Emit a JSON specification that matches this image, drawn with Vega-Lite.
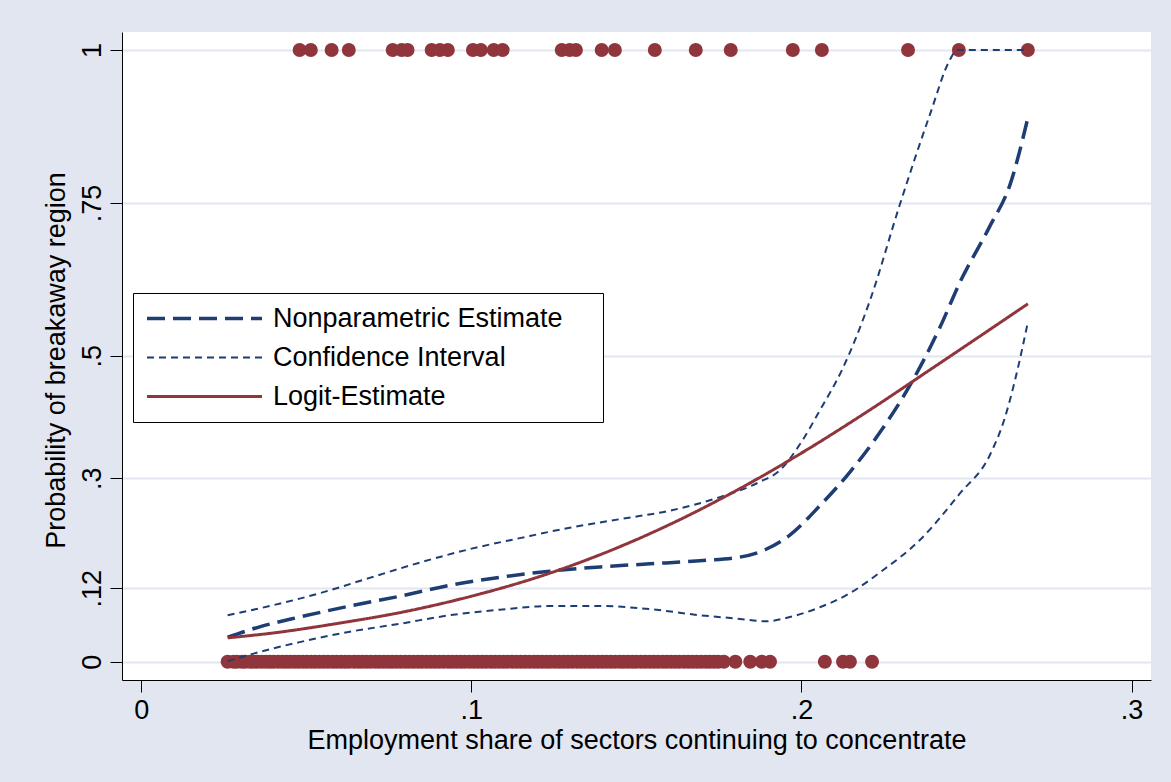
{
  "$schema": "https://vega.github.io/schema/vega-lite/v6.json",
  "width": 1029,
  "height": 648,
  "autosize": {"type": "none"},
  "padding": {"left": 122, "top": 32, "right": 20, "bottom": 102},
  "background": "#E2E6F0",
  "config": {"view": {"stroke": null, "fill": "white"}, "font": "Liberation Sans"},
  "datasets": {
    "pts": [
      {"x":0.0480,"y":1},{"x":0.0514,"y":1},{"x":0.0577,"y":1},{"x":0.0629,"y":1},{"x":0.0762,"y":1},{"x":0.0789,"y":1},{"x":0.0807,"y":1},{"x":0.0880,"y":1},{"x":0.0905,"y":1},{"x":0.0929,"y":1},{"x":0.1005,"y":1},{"x":0.1029,"y":1},{"x":0.1068,"y":1},{"x":0.1095,"y":1},{"x":0.1274,"y":1},{"x":0.1298,"y":1},{"x":0.1317,"y":1},{"x":0.1395,"y":1},{"x":0.1435,"y":1},{"x":0.1556,"y":1},{"x":0.1680,"y":1},{"x":0.1786,"y":1},{"x":0.1974,"y":1},{"x":0.2062,"y":1},{"x":0.2323,"y":1},{"x":0.2477,"y":1},{"x":0.2686,"y":1},
      {"x":0.0262,"y":0},{"x":0.0280,"y":0},{"x":0.0290,"y":0},{"x":0.0305,"y":0},{"x":0.0315,"y":0},{"x":0.0330,"y":0},{"x":0.0340,"y":0},{"x":0.0352,"y":0},{"x":0.0365,"y":0},{"x":0.0378,"y":0},{"x":0.0390,"y":0},{"x":0.0401,"y":0},{"x":0.0415,"y":0},{"x":0.0428,"y":0},{"x":0.0440,"y":0},{"x":0.0452,"y":0},{"x":0.0465,"y":0},{"x":0.0477,"y":0},{"x":0.0490,"y":0},{"x":0.0502,"y":0},{"x":0.0515,"y":0},{"x":0.0527,"y":0},{"x":0.0540,"y":0},{"x":0.0553,"y":0},{"x":0.0566,"y":0},{"x":0.0580,"y":0},{"x":0.0592,"y":0},{"x":0.0605,"y":0},{"x":0.0618,"y":0},{"x":0.0630,"y":0},{"x":0.0645,"y":0},{"x":0.0658,"y":0},{"x":0.0670,"y":0},{"x":0.0683,"y":0},{"x":0.0696,"y":0},{"x":0.0710,"y":0},{"x":0.0722,"y":0},{"x":0.0735,"y":0},{"x":0.0748,"y":0},{"x":0.0760,"y":0},{"x":0.0773,"y":0},{"x":0.0786,"y":0},{"x":0.0800,"y":0},{"x":0.0812,"y":0},{"x":0.0825,"y":0},{"x":0.0838,"y":0},{"x":0.0850,"y":0},{"x":0.0864,"y":0},{"x":0.0877,"y":0},{"x":0.0890,"y":0},{"x":0.0903,"y":0},{"x":0.0916,"y":0},{"x":0.0930,"y":0},{"x":0.0942,"y":0},{"x":0.0955,"y":0},{"x":0.0968,"y":0},{"x":0.0980,"y":0},{"x":0.0994,"y":0},{"x":0.1007,"y":0},{"x":0.1020,"y":0},{"x":0.1033,"y":0},{"x":0.1046,"y":0},{"x":0.1060,"y":0},{"x":0.1072,"y":0},{"x":0.1085,"y":0},{"x":0.1098,"y":0},{"x":0.1110,"y":0},{"x":0.1124,"y":0},{"x":0.1137,"y":0},{"x":0.1150,"y":0},{"x":0.1163,"y":0},{"x":0.1176,"y":0},{"x":0.1190,"y":0},{"x":0.1202,"y":0},{"x":0.1215,"y":0},{"x":0.1228,"y":0},{"x":0.1240,"y":0},{"x":0.1254,"y":0},{"x":0.1267,"y":0},{"x":0.1280,"y":0},{"x":0.1293,"y":0},{"x":0.1306,"y":0},{"x":0.1320,"y":0},{"x":0.1332,"y":0},{"x":0.1345,"y":0},{"x":0.1358,"y":0},{"x":0.1370,"y":0},{"x":0.1384,"y":0},{"x":0.1397,"y":0},{"x":0.1410,"y":0},{"x":0.1423,"y":0},{"x":0.1436,"y":0},{"x":0.1450,"y":0},{"x":0.1462,"y":0},{"x":0.1475,"y":0},{"x":0.1488,"y":0},{"x":0.1500,"y":0},{"x":0.1514,"y":0},{"x":0.1527,"y":0},{"x":0.1540,"y":0},{"x":0.1553,"y":0},{"x":0.1566,"y":0},{"x":0.1580,"y":0},{"x":0.1592,"y":0},{"x":0.1605,"y":0},{"x":0.1618,"y":0},{"x":0.1630,"y":0},{"x":0.1644,"y":0},{"x":0.1657,"y":0},{"x":0.1670,"y":0},{"x":0.1683,"y":0},{"x":0.1696,"y":0},{"x":0.1710,"y":0},{"x":0.1722,"y":0},{"x":0.1735,"y":0},{"x":0.1748,"y":0},{"x":0.1765,"y":0},{"x":0.1800,"y":0},{"x":0.1845,"y":0},{"x":0.1880,"y":0},{"x":0.1905,"y":0},{"x":0.2071,"y":0},{"x":0.2126,"y":0},{"x":0.2147,"y":0},{"x":0.2214,"y":0}
    ],
    "lines": [
      {"series":"Nonparametric Estimate","part":"np","x":0.0262,"y":0.040},
      {"series":"Nonparametric Estimate","part":"np","x":0.0359,"y":0.057},
      {"series":"Nonparametric Estimate","part":"np","x":0.0480,"y":0.073},
      {"series":"Nonparametric Estimate","part":"np","x":0.0632,"y":0.091},
      {"series":"Nonparametric Estimate","part":"np","x":0.0783,"y":0.107},
      {"series":"Nonparametric Estimate","part":"np","x":0.0935,"y":0.125},
      {"series":"Nonparametric Estimate","part":"np","x":0.1086,"y":0.138},
      {"series":"Nonparametric Estimate","part":"np","x":0.1238,"y":0.148},
      {"series":"Nonparametric Estimate","part":"np","x":0.1390,"y":0.155},
      {"series":"Nonparametric Estimate","part":"np","x":0.1541,"y":0.160},
      {"series":"Nonparametric Estimate","part":"np","x":0.1692,"y":0.165},
      {"series":"Nonparametric Estimate","part":"np","x":0.1814,"y":0.171},
      {"series":"Nonparametric Estimate","part":"np","x":0.1890,"y":0.183},
      {"series":"Nonparametric Estimate","part":"np","x":0.1965,"y":0.207},
      {"series":"Nonparametric Estimate","part":"np","x":0.2056,"y":0.255},
      {"series":"Nonparametric Estimate","part":"np","x":0.2147,"y":0.310},
      {"series":"Nonparametric Estimate","part":"np","x":0.2238,"y":0.375},
      {"series":"Nonparametric Estimate","part":"np","x":0.2329,"y":0.452},
      {"series":"Nonparametric Estimate","part":"np","x":0.2420,"y":0.547},
      {"series":"Nonparametric Estimate","part":"np","x":0.2480,"y":0.620},
      {"series":"Nonparametric Estimate","part":"np","x":0.2571,"y":0.712},
      {"series":"Nonparametric Estimate","part":"np","x":0.2632,"y":0.780},
      {"series":"Nonparametric Estimate","part":"np","x":0.2686,"y":0.889},
      {"series":"Confidence Interval","part":"up","x":0.0262,"y":0.076},
      {"series":"Confidence Interval","part":"up","x":0.0389,"y":0.091},
      {"series":"Confidence Interval","part":"up","x":0.0541,"y":0.112},
      {"series":"Confidence Interval","part":"up","x":0.0692,"y":0.137},
      {"series":"Confidence Interval","part":"up","x":0.0844,"y":0.162},
      {"series":"Confidence Interval","part":"up","x":0.0995,"y":0.184},
      {"series":"Confidence Interval","part":"up","x":0.1147,"y":0.202},
      {"series":"Confidence Interval","part":"up","x":0.1298,"y":0.219},
      {"series":"Confidence Interval","part":"up","x":0.1450,"y":0.233},
      {"series":"Confidence Interval","part":"up","x":0.1602,"y":0.247},
      {"series":"Confidence Interval","part":"up","x":0.1753,"y":0.269},
      {"series":"Confidence Interval","part":"up","x":0.1874,"y":0.294},
      {"series":"Confidence Interval","part":"up","x":0.1935,"y":0.313},
      {"series":"Confidence Interval","part":"up","x":0.1995,"y":0.355},
      {"series":"Confidence Interval","part":"up","x":0.2056,"y":0.411},
      {"series":"Confidence Interval","part":"up","x":0.2123,"y":0.477},
      {"series":"Confidence Interval","part":"up","x":0.2208,"y":0.591},
      {"series":"Confidence Interval","part":"up","x":0.2298,"y":0.747},
      {"series":"Confidence Interval","part":"up","x":0.2389,"y":0.894},
      {"series":"Confidence Interval","part":"up","x":0.2450,"y":0.984},
      {"series":"Confidence Interval","part":"up","x":0.2471,"y":1.0},
      {"series":"Confidence Interval","part":"up","x":0.2686,"y":1.0},
      {"series":"Confidence Interval","part":"lo","x":0.0262,"y":0.001},
      {"series":"Confidence Interval","part":"lo","x":0.0359,"y":0.016},
      {"series":"Confidence Interval","part":"lo","x":0.0480,"y":0.032},
      {"series":"Confidence Interval","part":"lo","x":0.0632,"y":0.049},
      {"series":"Confidence Interval","part":"lo","x":0.0783,"y":0.062},
      {"series":"Confidence Interval","part":"lo","x":0.0935,"y":0.076},
      {"series":"Confidence Interval","part":"lo","x":0.1086,"y":0.085},
      {"series":"Confidence Interval","part":"lo","x":0.1238,"y":0.091},
      {"series":"Confidence Interval","part":"lo","x":0.1390,"y":0.091},
      {"series":"Confidence Interval","part":"lo","x":0.1541,"y":0.086},
      {"series":"Confidence Interval","part":"lo","x":0.1692,"y":0.076},
      {"series":"Confidence Interval","part":"lo","x":0.1814,"y":0.070},
      {"series":"Confidence Interval","part":"lo","x":0.1890,"y":0.066},
      {"series":"Confidence Interval","part":"lo","x":0.1965,"y":0.073},
      {"series":"Confidence Interval","part":"lo","x":0.2056,"y":0.089},
      {"series":"Confidence Interval","part":"lo","x":0.2147,"y":0.112},
      {"series":"Confidence Interval","part":"lo","x":0.2238,"y":0.146},
      {"series":"Confidence Interval","part":"lo","x":0.2359,"y":0.199},
      {"series":"Confidence Interval","part":"lo","x":0.2480,"y":0.275},
      {"series":"Confidence Interval","part":"lo","x":0.2571,"y":0.338},
      {"series":"Confidence Interval","part":"lo","x":0.2617,"y":0.400},
      {"series":"Confidence Interval","part":"lo","x":0.2647,"y":0.460},
      {"series":"Confidence Interval","part":"lo","x":0.2686,"y":0.555},
      {"series":"Logit-Estimate","part":"lg","x":0.0262,"y":0.039},
      {"series":"Logit-Estimate","part":"lg","x":0.0400,"y":0.047},
      {"series":"Logit-Estimate","part":"lg","x":0.0600,"y":0.063},
      {"series":"Logit-Estimate","part":"lg","x":0.0800,"y":0.082},
      {"series":"Logit-Estimate","part":"lg","x":0.1000,"y":0.107},
      {"series":"Logit-Estimate","part":"lg","x":0.1200,"y":0.138},
      {"series":"Logit-Estimate","part":"lg","x":0.1400,"y":0.177},
      {"series":"Logit-Estimate","part":"lg","x":0.1600,"y":0.224},
      {"series":"Logit-Estimate","part":"lg","x":0.1800,"y":0.279},
      {"series":"Logit-Estimate","part":"lg","x":0.2000,"y":0.341},
      {"series":"Logit-Estimate","part":"lg","x":0.2200,"y":0.409},
      {"series":"Logit-Estimate","part":"lg","x":0.2400,"y":0.481},
      {"series":"Logit-Estimate","part":"lg","x":0.2686,"y":0.585}
    ]
  },
  "layer": [
    {
      "data": {"name": "pts"},
      "mark": {"type": "circle", "color": "#90353B", "opacity": 1, "size": 195},
      "encoding": {
        "x": {"field": "x", "type": "quantitative", "scale": {"domain": [-0.0058, 0.3059], "nice": false, "zero": false},
          "axis": {"title": "Employment share of sectors continuing to concentrate", "values": [0, 0.1, 0.2, 0.3],
            "labelExpr": "datum.value == 0 ? '0' : slice(toString(datum.value), 1)",
            "grid": false, "domainColor": "black", "domainWidth": 1, "tickColor": "black", "tickWidth": 1, "tickSize": 12,
            "labelPadding": 5, "labelFontSize": 27, "labelColor": "black", "labelFont": "Liberation Sans",
            "titleFont": "Liberation Sans", "titleFontSize": 27, "titleFontWeight": "normal", "titleColor": "black",
            "titleBaseline": "middle", "titleY": 60}},
        "y": {"field": "y", "type": "quantitative", "scale": {"domain": [-0.0299, 1.0294], "nice": false, "zero": false},
          "axis": {"title": "Probability of breakaway region", "values": [0, 0.12, 0.3, 0.5, 0.75, 1],
            "labelExpr": "datum.value > 0 && datum.value < 1 ? slice(toString(datum.value), 1) : toString(datum.value)",
            "labelAngle": -90, "labelAlign": "center", "labelBaseline": "alphabetic", "labelPadding": 10,
            "grid": true, "gridColor": "#E2E6F0", "gridWidth": 2,
            "domainColor": "black", "domainWidth": 1, "tickColor": "black", "tickWidth": 1, "tickSize": 12,
            "labelFontSize": 27, "labelColor": "black", "labelFont": "Liberation Sans",
            "titleFont": "Liberation Sans", "titleFontSize": 27, "titleFontWeight": "normal", "titleColor": "black",
            "titleAngle": -90, "titleX": -66, "titleY": 328, "titleAlign": "center", "titleBaseline": "middle"}}
      }
    },
    {
      "mark": {"type": "rule", "color": "#C41230", "strokeWidth": 2},
      "encoding": {"y": {"datum": 0.12, "type": "quantitative"}}
    },
    {
      "data": {"name": "lines"},
      "mark": {"type": "line", "interpolate": "monotone"},
      "encoding": {
        "x": {"field": "x", "type": "quantitative"},
        "y": {"field": "y", "type": "quantitative"},
        "detail": {"field": "part"},
        "order": {"field": "x", "type": "quantitative"},
        "color": {"field": "series", "type": "nominal",
          "scale": {"domain": ["Nonparametric Estimate", "Confidence Interval", "Logit-Estimate"], "range": ["#1E3D73", "#1E3D73", "#90353B"]},
          "legend": {"orient": "none", "legendX": 11, "legendY": 261, "title": null, "fillColor": "white", "strokeColor": "black",
            "padding": 12, "cornerRadius": 0, "symbolType": "M-1,0H9", "symbolSize": 529, "symbolStrokeWidth": 2.5,
            "labelFontSize": 27, "labelFont": "Liberation Sans", "labelColor": "black", "labelOffset": 101, "rowPadding": 11, "labelLimit": 600,
            "labelExpr": "datum.label + '\u00a0\u2800'"}},
        "strokeDash": {"field": "series", "type": "nominal",
          "scale": {"domain": ["Nonparametric Estimate", "Confidence Interval", "Logit-Estimate"], "range": [[18, 8], [7, 5], [1, 0]]},
          "legend": {"orient": "none", "legendX": 11, "legendY": 261, "title": null, "fillColor": "white", "strokeColor": "black",
            "padding": 12, "cornerRadius": 0, "symbolType": "M-1,0H9", "symbolSize": 529, "symbolStrokeWidth": 2.5,
            "labelFontSize": 27, "labelFont": "Liberation Sans", "labelColor": "black", "labelOffset": 101, "rowPadding": 11, "labelLimit": 600,
            "labelExpr": "datum.label + '\u00a0\u2800'"}},
        "strokeWidth": {"field": "series", "type": "nominal",
          "scale": {"type": "ordinal", "domain": ["Nonparametric Estimate", "Confidence Interval", "Logit-Estimate"], "range": [3.5, 2, 3]},
          "legend": {"orient": "none", "legendX": 11, "legendY": 261, "title": null, "fillColor": "white", "strokeColor": "black",
            "padding": 12, "cornerRadius": 0, "symbolType": "M-1,0H9", "symbolSize": 529,
            "labelFontSize": 27, "labelFont": "Liberation Sans", "labelColor": "black", "labelOffset": 101, "rowPadding": 11, "labelLimit": 600,
            "labelExpr": "datum.label + '\u00a0\u2800'"}}
      }
    }
  ]
}
